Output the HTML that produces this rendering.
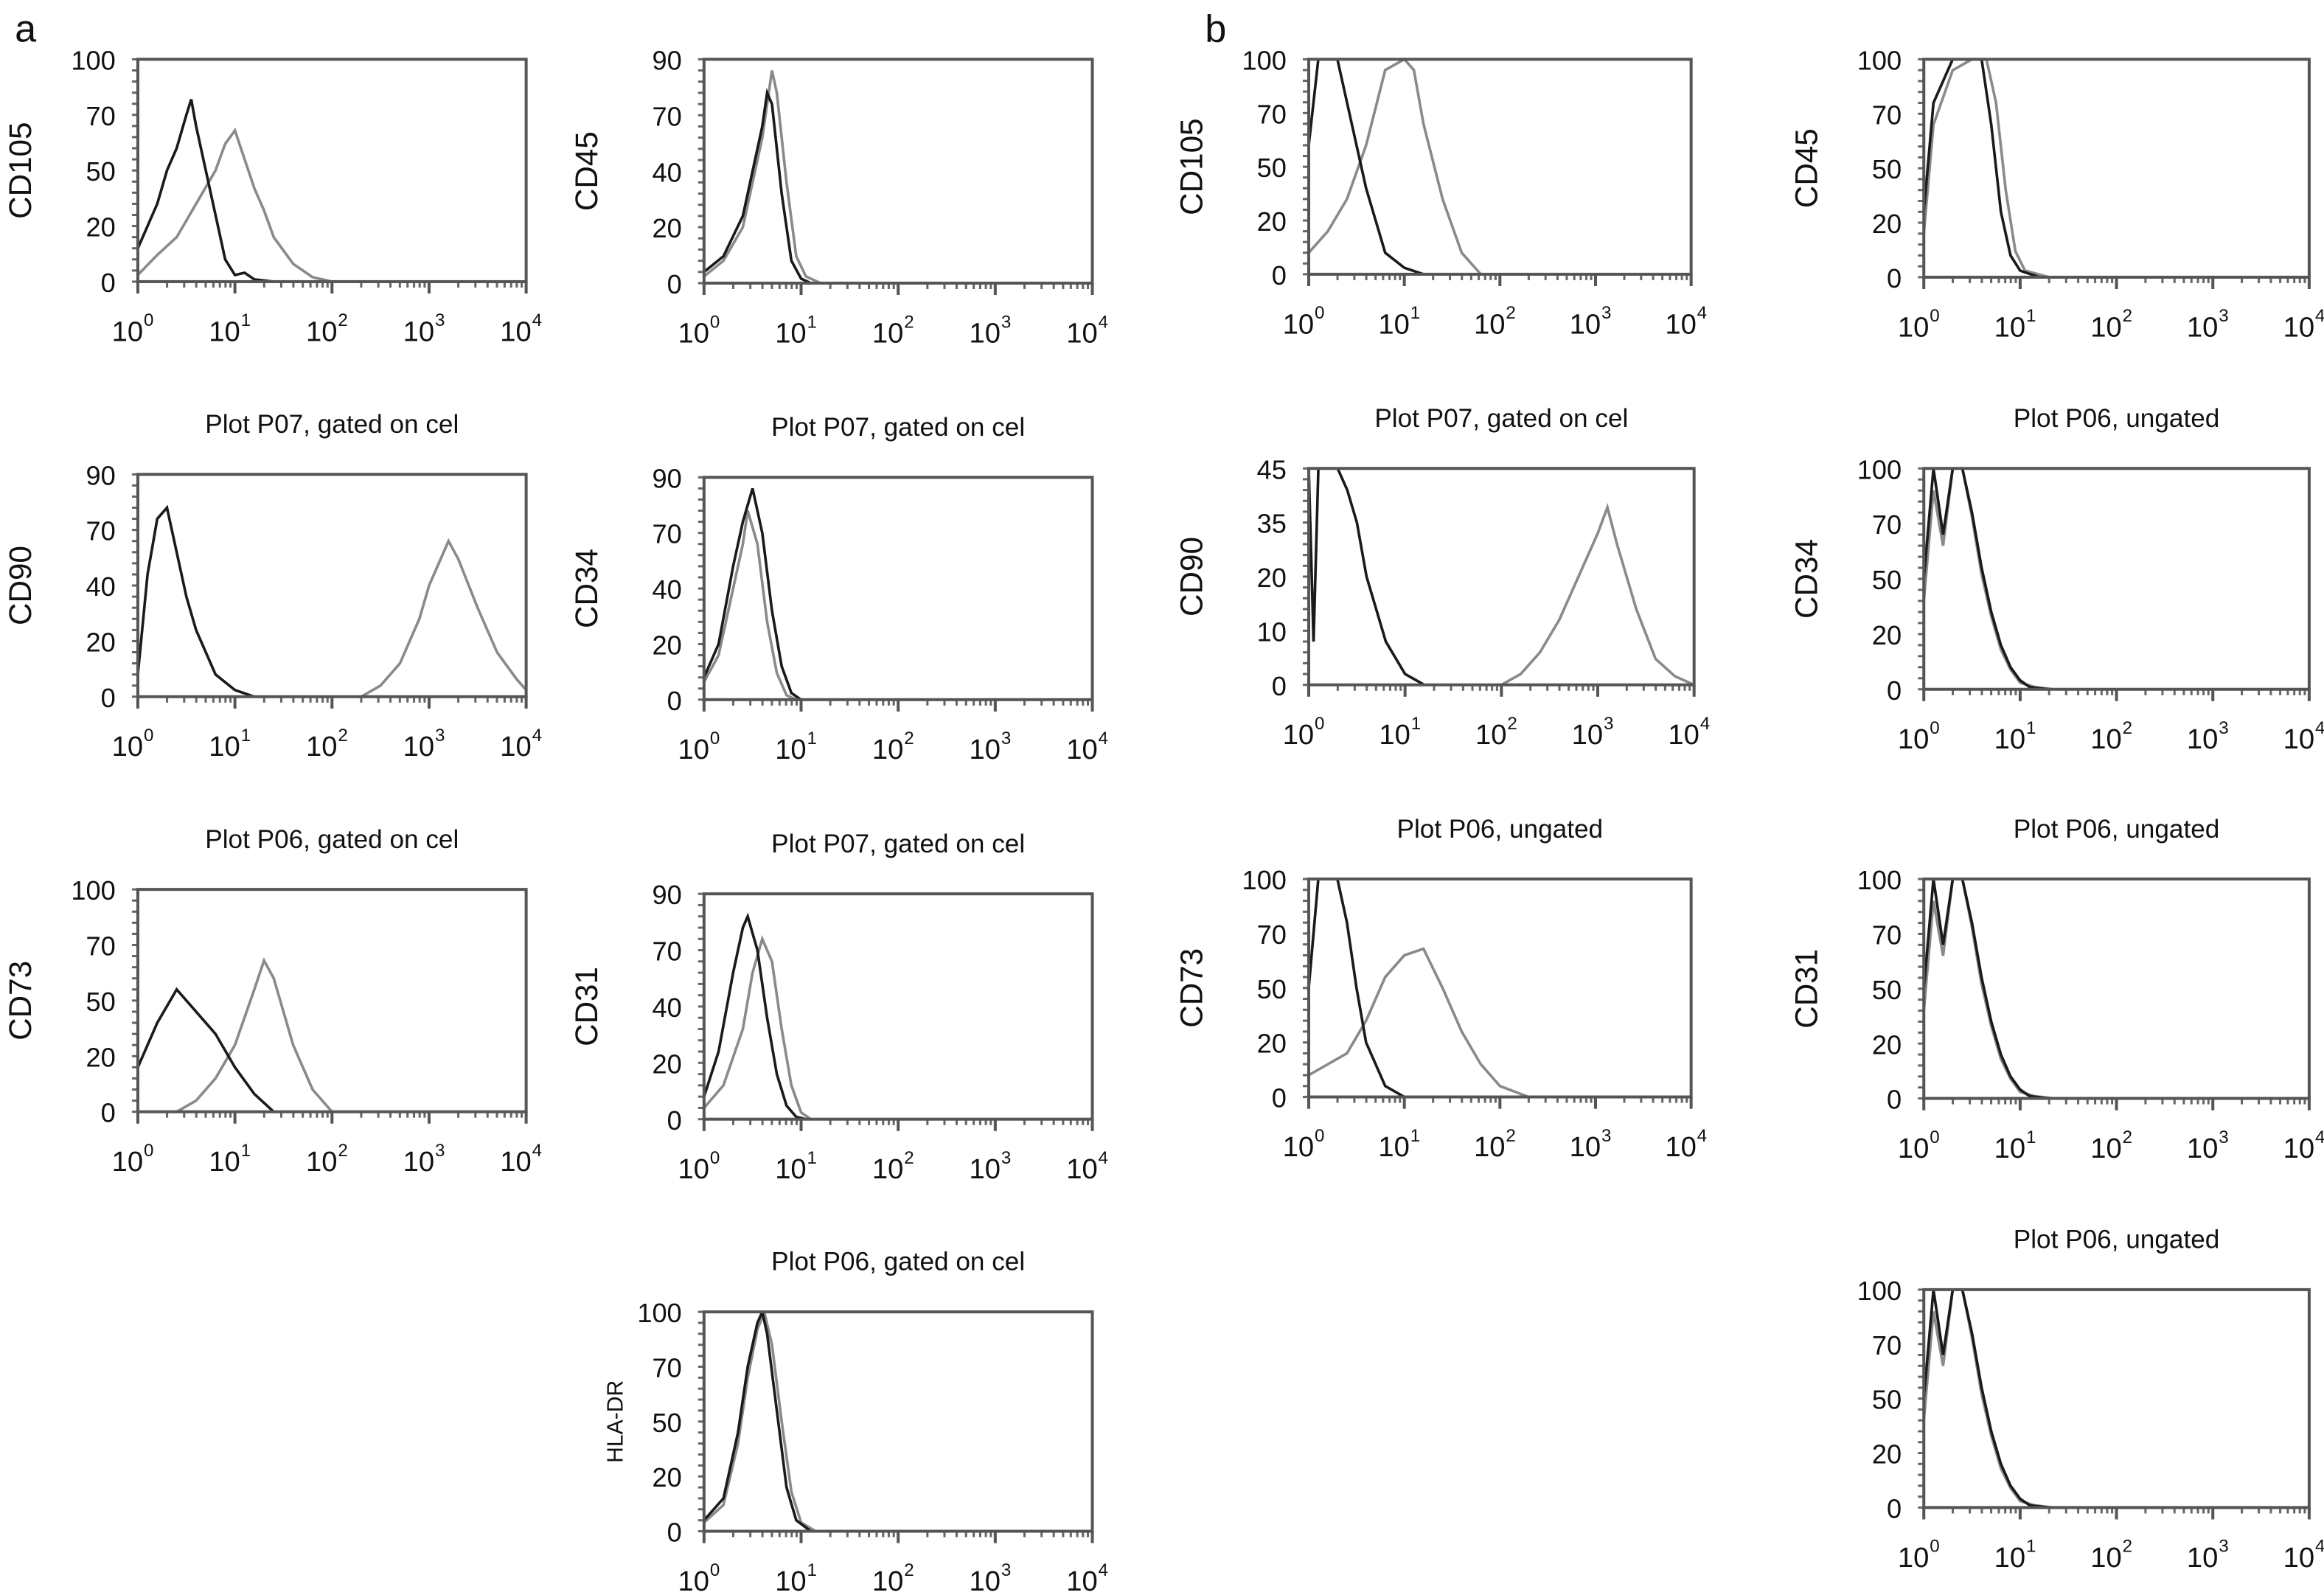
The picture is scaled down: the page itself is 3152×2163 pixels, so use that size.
<!DOCTYPE html>
<html><head><meta charset="utf-8"><style>
html,body{margin:0;padding:0;background:#fff}
svg{display:block}
text{font-family:"Liberation Sans",sans-serif;fill:#111}
</style></head><body>
<svg id="fig" width="3152" height="2163" viewBox="0 0 1568 1076" xmlns="http://www.w3.org/2000/svg">
<text x="10" y="28" font-size="26">a</text>
<text x="813" y="28" font-size="26">b</text>
</svg>
<script>
// x values are log10 intensity (0..4); y values are % of axis height
const xTickLabels = ["0","1","2","3","4"];
const a1BlackX=[0,0.1,0.2,0.3,0.4,0.5,0.55,0.6,0.7,0.8,0.9,1.0,1.1,1.2,1.4];
const a1BlackY=[15,25,35,50,60,75,82,70,50,30,10,3,4,1,0];
const a1GrayX=[0,0.2,0.4,0.6,0.8,0.9,1.0,1.1,1.2,1.3,1.4,1.6,1.8,2.0];
const a1GrayY=[3,12,20,35,50,62,68,55,42,32,20,8,2,0];
const a2BlackX=[0,0.2,0.4,0.5,0.6,0.65,0.7,0.8,0.9,1.0,1.1];
const a2BlackY=[5,12,30,50,70,85,80,40,10,2,0];
const a2GrayX=[0,0.2,0.4,0.5,0.6,0.7,0.75,0.85,0.95,1.05,1.2];
const a2GrayY=[3,10,25,45,65,95,85,45,12,3,0];
const a3BlackX=[0,0.1,0.2,0.3,0.4,0.5,0.6,0.8,1.0,1.2];
const a3BlackY=[10,55,80,85,65,45,30,10,3,0];
const a3GrayX=[2.3,2.5,2.7,2.9,3.0,3.1,3.2,3.3,3.5,3.7,3.9,4.0];
const a3GrayY=[0,5,15,35,50,60,70,62,40,20,8,3];
const a4BlackX=[0,0.15,0.3,0.4,0.5,0.6,0.7,0.8,0.9,1.0];
const a4BlackY=[10,25,60,80,95,75,40,15,3,0];
const a4GrayX=[0,0.15,0.3,0.4,0.45,0.55,0.65,0.75,0.85,0.95];
const a4GrayY=[8,20,50,70,85,70,35,12,2,0];
const a5BlackX=[0,0.2,0.4,0.6,0.8,1.0,1.2,1.4];
const a5BlackY=[20,40,55,45,35,20,8,0];
const a5GrayX=[0.4,0.6,0.8,1.0,1.2,1.3,1.4,1.6,1.8,2.0];
const a5GrayY=[0,5,15,30,55,68,60,30,10,0];
const a6BlackX=[0,0.15,0.3,0.4,0.45,0.55,0.65,0.75,0.85,0.95,1.05];
const a6BlackY=[10,30,65,85,90,75,45,20,6,1,0];
const a6GrayX=[0,0.2,0.4,0.5,0.6,0.7,0.8,0.9,1.0,1.1];
const a6GrayY=[5,15,40,65,80,70,40,15,3,0];
const a7BlackX=[0,0.2,0.35,0.45,0.55,0.6,0.65,0.75,0.85,0.95,1.1];
const a7BlackY=[5,15,45,75,95,100,90,55,20,5,0];
const a7GrayX=[0,0.2,0.35,0.45,0.55,0.62,0.7,0.8,0.9,1.0,1.15];
const a7GrayY=[4,12,40,70,92,100,85,50,18,4,0];
const b1BlackX=[0,0.1,0.2,0.3,0.4,0.5,0.6,0.7,0.8,1.0,1.2];
const b1BlackY=[60,100,100,100,80,60,40,25,10,3,0];
const b1GrayX=[0,0.2,0.4,0.6,0.8,1.0,1.1,1.2,1.4,1.6,1.8];
const b1GrayY=[10,20,35,60,95,100,95,70,35,10,0];
const b2BlackX=[0,0.1,0.3,0.5,0.6,0.7,0.8,0.9,1.0,1.2];
const b2BlackY=[30,80,100,100,100,70,30,10,3,0];
const b2GrayX=[0,0.1,0.3,0.5,0.65,0.75,0.85,0.95,1.05,1.3];
const b2GrayY=[20,70,95,100,100,80,40,12,3,0];
const b3BlackX=[0,0.05,0.1,0.2,0.3,0.4,0.5,0.6,0.8,1.0,1.2];
const b3BlackY=[100,20,100,100,100,90,75,50,20,5,0];
const b3GrayX=[2.0,2.2,2.4,2.6,2.8,3.0,3.1,3.2,3.4,3.6,3.8,4.0];
const b3GrayY=[0,5,15,30,50,70,82,65,35,12,4,0];
const b4BlackX=[0,0.1,0.2,0.3,0.4,0.5,0.6,0.7,0.8,0.9,1.0,1.1,1.3];
const b4BlackY=[50,100,70,100,100,80,55,35,20,10,4,1,0];
const b4GrayX=[0,0.1,0.2,0.3,0.4,0.5,0.6,0.7,0.8,0.9,1.0,1.15,1.35];
const b4GrayY=[40,90,65,100,100,78,52,33,18,9,3,1,0];
const b5BlackX=[0,0.1,0.2,0.3,0.4,0.5,0.6,0.8,1.0];
const b5BlackY=[50,100,100,100,80,50,25,5,0];
const b5GrayX=[0,0.2,0.4,0.6,0.8,1.0,1.2,1.4,1.6,1.8,2.0,2.3];
const b5GrayY=[10,15,20,35,55,65,68,50,30,15,5,0];

const panels=[
 {n:"cd105-a",lab:"CD105",x:93,y:40,w:262,h:150,t:null,yt:["0","20","50","70","100"],bx:a1BlackX,by:a1BlackY,gx:a1GrayX,gy:a1GrayY},
 {n:"cd45-a",lab:"CD45",x:475,y:40,w:262,h:151,t:null,yt:["0","20","40","70","90"],bx:a2BlackX,by:a2BlackY,gx:a2GrayX,gy:a2GrayY},
 {n:"cd90-a",lab:"CD90",x:93,y:320,w:262,h:150,t:"Plot P07, gated on cel",yt:["0","20","40","70","90"],bx:a3BlackX,by:a3BlackY,gx:a3GrayX,gy:a3GrayY},
 {n:"cd34-a",lab:"CD34",x:475,y:322,w:262,h:150,t:"Plot P07, gated on cel",yt:["0","20","40","70","90"],bx:a4BlackX,by:a4BlackY,gx:a4GrayX,gy:a4GrayY},
 {n:"cd73-a",lab:"CD73",x:93,y:600,w:262,h:150,t:"Plot P06, gated on cel",yt:["0","20","50","70","100"],bx:a5BlackX,by:a5BlackY,gx:a5GrayX,gy:a5GrayY},
 {n:"cd31-a",lab:"CD31",x:475,y:603,w:262,h:152,t:"Plot P07, gated on cel",yt:["0","20","40","70","90"],bx:a6BlackX,by:a6BlackY,gx:a6GrayX,gy:a6GrayY},
 {n:"hla-dr-a",lab:"HLA-DR",x:475,y:885,w:262,h:148,t:"Plot P06, gated on cel",yt:["0","20","50","70","100"],bx:a7BlackX,by:a7BlackY,gx:a7GrayX,gy:a7GrayY,small:true},
 {n:"cd105-b",lab:"CD105",x:883,y:40,w:258,h:145,t:null,yt:["0","20","50","70","100"],bx:b1BlackX,by:b1BlackY,gx:b1GrayX,gy:b1GrayY},
 {n:"cd45-b",lab:"CD45",x:1298,y:40,w:260,h:147,t:null,yt:["0","20","50","70","100"],bx:b2BlackX,by:b2BlackY,gx:b2GrayX,gy:b2GrayY},
 {n:"cd90-b",lab:"CD90",x:883,y:316,w:260,h:146,t:"Plot P07, gated on cel",yt:["0","10","20","35","45"],bx:b3BlackX,by:b3BlackY,gx:b3GrayX,gy:b3GrayY},
 {n:"cd34-b",lab:"CD34",x:1298,y:316,w:260,h:149,t:"Plot P06, ungated",yt:["0","20","50","70","100"],bx:b4BlackX,by:b4BlackY,gx:b4GrayX,gy:b4GrayY},
 {n:"cd73-b",lab:"CD73",x:883,y:593,w:258,h:147,t:"Plot P06, ungated",yt:["0","20","50","70","100"],bx:b5BlackX,by:b5BlackY,gx:b5GrayX,gy:b5GrayY},
 {n:"cd31-b",lab:"CD31",x:1298,y:593,w:260,h:148,t:"Plot P06, ungated",yt:["0","20","50","70","100"],bx:b4BlackX,by:b4BlackY,gx:b4GrayX,gy:b4GrayY},
 {n:"hla-dr-b",lab:"",x:1298,y:870,w:260,h:147,t:"Plot P06, ungated",yt:["0","20","50","70","100"],bx:b4BlackX,by:b4BlackY,gx:b4GrayX,gy:b4GrayY}
];
const NS="http://www.w3.org/2000/svg";
const svg=document.getElementById('fig');
function mk(tag,attrs,parent){const e=document.createElementNS(NS,tag);for(const k in attrs)e.setAttribute(k,attrs[k]);parent.appendChild(e);return e;}
panels.forEach(p=>{
 const g=mk('g',{},svg);
 
 
 const sx=v=>p.x+v/4*p.w, sy=v=>p.y+p.h-v/100*p.h;
 if(p.t){const t=mk('text',{x:p.x+p.w/2,y:p.y-28,'font-size':17.5,'text-anchor':'middle'},g);t.textContent=p.t;
  
  }
 if(p.lab){const cx=p.x-(p.small?55:72),cy=p.y+p.h/2;
  const t=mk('text',{x:cx,y:cy,'font-size':p.small?15:21,'text-anchor':'middle',transform:`rotate(-90 ${cx} ${cy})`},g);t.textContent=p.lab;
  
  }
 p.yt.forEach((l,i)=>{const yy=p.y+p.h-i/(p.yt.length-1)*p.h;
  const t=mk('text',{x:p.x-15,y:yy+7,'font-size':18,'text-anchor':'end'},g);t.textContent=l;
  
  });
 for(let i=0;i<=20;i++){const yy=p.y+i/20*p.h;mk('line',{x1:p.x-4,x2:p.x,y1:yy,y2:yy,stroke:'#666','stroke-width':1.5},g);}
 for(let d=0;d<4;d++){for(let m=2;m<10;m++){const xx=sx(d+Math.log10(m));mk('line',{x1:xx,x2:xx,y1:p.y+p.h,y2:p.y+p.h+4,stroke:'#666','stroke-width':1.5},g);}}
 xTickLabels.forEach((l,i)=>{const xx=sx(i);
  mk('line',{x1:xx,x2:xx,y1:p.y+p.h,y2:p.y+p.h+8,stroke:'#555','stroke-width':2},g);
  const t=mk('text',{x:xx-7,y:p.y+p.h+40,'font-size':19,'text-anchor':'middle'},g);
  t.textContent='10';
  
  
  const s=mk('text',{x:xx+4,y:p.y+p.h+30,'font-size':12,'text-anchor':'start'},g);s.textContent=l;});
 const cl=mk('clipPath',{id:'c'+p.n},g);mk('rect',{x:p.x,y:p.y,width:p.w,height:p.h},cl);
 const gp=p.gx.map((v,i)=>sx(v)+','+sy(p.gy[i])).join(' ');
 const gl=mk('polyline',{points:gp,fill:'none',stroke:'#8a8a8a','stroke-width':1.8,'clip-path':`url(#c${p.n})`},g);
 
 
 const bp=p.bx.map((v,i)=>sx(v)+','+sy(p.by[i])).join(' ');
 const bl=mk('polyline',{points:bp,fill:'none',stroke:'#1a1a1a','stroke-width':1.8,'clip-path':`url(#c${p.n})`},g);
 
 
 const fr=mk('rect',{x:p.x,y:p.y,width:p.w,height:p.h,fill:'none',stroke:'#555','stroke-width':2},g);
 
 
});
</script>
</body></html>
